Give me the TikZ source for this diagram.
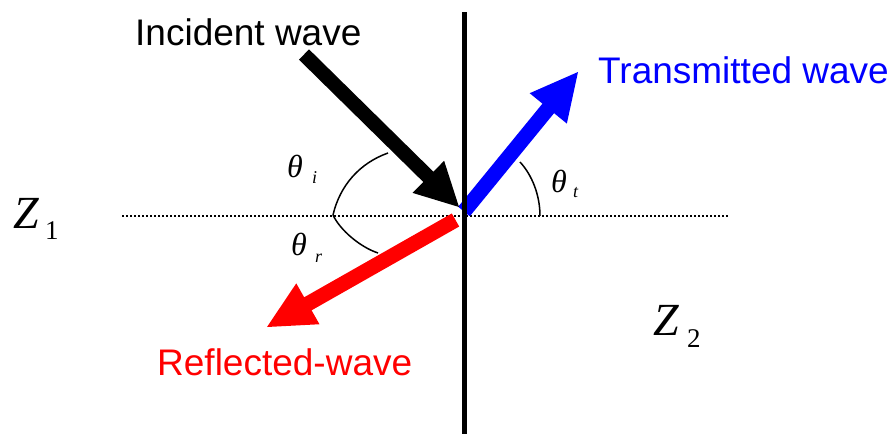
\documentclass[tikz,border=0pt]{standalone}
\usepackage{fontspec}
\setmainfont{Liberation Sans}
\newfontfamily\tnr{Liberation Serif}
\usetikzlibrary{calc}
\newcommand\wavearrow[6]{%
  \coordinate (hb) at ($(#2)!#4!(#1)$);
  \fill[#6] ($(#1)!#3!90:(#2)$) -- ($(hb)!#3!90:(#2)$) -- ($(hb)!#5!90:(#2)$) -- (#2)
    -- ($(hb)!#5!-90:(#2)$) -- ($(hb)!#3!-90:(#2)$) -- ($(#1)!#3!-90:(#2)$) -- cycle;}
\begin{document}
\begin{tikzpicture}[x=1pt,y=-1pt,
  lbl/.style={anchor=base west, inner sep=0pt, font=\fontsize{37}{40}\selectfont},
  sym/.style={anchor=base west, inner sep=0pt},
  anglearc/.style={line width=1.5pt},
  boundary/.style={line width=5pt},
  interface/.style={line width=2.4pt, dash pattern=on 2pt off 2pt}]
\useasboundingbox (0,0) rectangle (892,434);
% key points
\coordinate (itail) at (304,54.5);
\coordinate (itip) at (459,207);
\coordinate (ttail) at (464,211.5);
\coordinate (ttip) at (578,72);
\coordinate (rtail) at (455.5,220);
\coordinate (rtip) at (267,327);
\coordinate (dl) at (122,216);
\coordinate (dr) at (728,216);
\coordinate (bt) at (464.5,12);
\coordinate (bb) at (464.5,434);
% interface line
\draw[interface] (dl) -- (dr);
% angle arcs
\draw[anglearc] (333,215) .. controls (340,185) and (360,163) .. (388,153);
\draw[anglearc] (333,215) .. controls (340,230) and (360,247) .. (378,253);
\draw[anglearc] (520,162) .. controls (532,175) and (540,195) .. (540,216);
% wave arrows
\wavearrow{rtail}{rtip}{7.5pt}{47pt}{23.5pt}{red}
\wavearrow{ttail}{ttip}{7.5pt}{47pt}{24pt}{blue}
\wavearrow{itail}{itip}{7.2pt}{43pt}{22.5pt}{black}
% boundary
\draw[boundary] (bt) -- (bb);
% labels
\node[lbl] (inc) at (135,45) {Incident wave};
\node[lbl, text=blue] (trans) at (598,83) {Transmitted wave};
\node[lbl, text=red] (refl) at (157,375) {Reflected-wave};
\node[sym] (thi) at (287,177) {\tnr\itshape\fontsize{32}{34}\selectfont\makebox[25pt][l]{θ}\raisebox{-6pt}{\fontsize{18}{19}\selectfont i}};
\node[sym] (thr) at (291,255) {\tnr\itshape\fontsize{32}{34}\selectfont\makebox[24pt][l]{θ}\raisebox{-7pt}{\fontsize{18}{19}\selectfont r}};
\node[sym] (tht) at (551,192) {\tnr\itshape\fontsize{32}{34}\selectfont\makebox[22pt][l]{θ}\raisebox{-5pt}{\fontsize{18}{19}\selectfont t}};
\node[sym] (z1) at (13,228) {\tnr\fontsize{46}{48}\selectfont\makebox[32pt][l]{\itshape Z}\raisebox{-11pt}{\fontsize{27}{29}\selectfont 1}};
\node[sym] (z2) at (653,335) {\tnr\fontsize{46}{48}\selectfont\makebox[34pt][l]{\itshape Z}\raisebox{-12pt}{\fontsize{27}{29}\selectfont 2}};
\end{tikzpicture}
\end{document}
